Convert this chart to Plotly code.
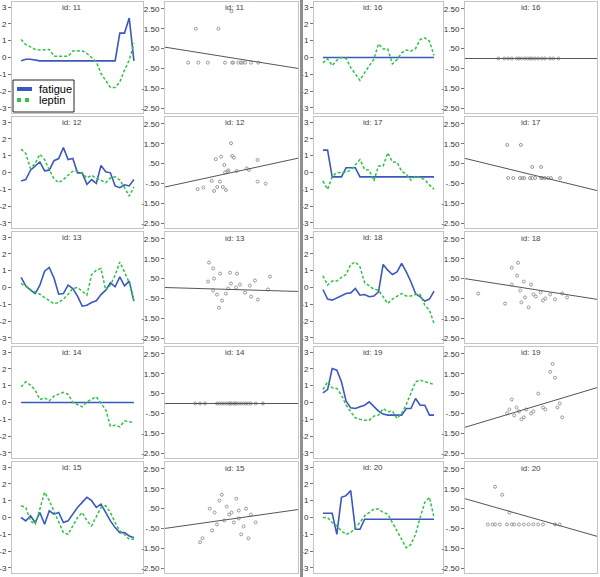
import plotly.graph_objects as go

# ---------------- data ----------------
ids = [11, 12, 13, 14, 15, 16, 17, 18, 19, 20]
time_index = list(range(1, 26))
legend_labels = ["fatigue", "leptin"]

fatigue_11 = [-0.2, -0.1, -0.1, -0.15, -0.2, -0.2, -0.2, -0.2, -0.2, -0.2, -0.2, -0.2, -0.2, -0.2, -0.2, -0.2, -0.2, -0.2, -0.2, -0.2, -0.2, 1.45, 1.45, 2.35, -0.2]
leptin_11 = [1.07, 0.77, 0.63, 0.48, 0.44, 0.48, 0.48, 0.08, 0.08, 0.08, 0.08, 0.38, 0.38, 0.4, 0.24, 0.0, -0.25, -0.95, -1.35, -1.78, -1.78, -1.45, -0.75, -0.15, 0.83]
fatigue_12 = [-0.5, -0.42, 0.14, 0.38, 0.63, 0.1, 0.14, 0.7, 0.83, 1.48, 0.77, 0.83, -0.02, -0.02, -0.7, -0.42, -0.65, 0.42, 0.04, -0.02, -0.8, -0.9, -0.73, -0.8, -0.42]
leptin_12 = [1.39, 1.13, 0.24, 0.53, 1.09, 0.77, 0.14, -0.36, -0.61, -0.42, -0.16, 0.08, 0.08, -0.06, -0.32, -0.16, -0.36, -0.46, -0.61, -0.32, -0.25, -0.45, -0.9, -1.4, -0.85]
fatigue_13 = [0.6, 0.1, -0.16, -0.36, 0.14, 0.97, 1.19, 0.57, -0.4, -0.36, 0.14, -0.06, -0.51, -1.11, -1.05, -0.89, -0.79, -0.42, -0.16, 0.28, 0.04, 0.63, 0.1, 0.38, -0.81]
leptin_13 = [0.24, 0.04, -0.12, -0.26, -0.4, -0.6, -0.8, -0.97, -0.89, -0.69, -0.4, -0.06, 0.0, -0.2, -0.45, 0.77, 1.03, 1.13, -0.16, 0.14, 0.73, 1.52, 0.9, 0.3, -0.81]
fatigue_14 = [0.0] * 25
leptin_14 = [0.93, 1.23, 1.03, 0.73, 0.18, 0.28, 0.1, 0.38, 0.5, 0.6, 0.48, 0.0, -0.12, -0.26, 0.04, 0.2, 0.34, -0.06, -0.42, -1.4, -1.35, -1.45, -1.09, -1.15, -1.19]
fatigue_15 = [0.0, -0.2, 0.1, -0.3, 0.3, -0.4, 0.4, 0.2, 0.3, -0.3, -0.2, 0.2, 0.6, 0.9, 1.2, 1.0, 0.6, 0.8, 0.3, -0.2, -0.6, -0.9, -0.9, -1.1, -1.2]
leptin_15 = [0.7, 0.6, -0.2, -0.4, 0.5, 1.5, 1.0, 0.4, -0.3, -0.9, -1.0, -0.5, 0.0, 0.3, -0.2, -0.5, 0.1, 0.6, 0.7, 0.3, -0.3, -0.8, -1.0, -1.3, -1.3]
fatigue_16 = [0.0] * 25
leptin_16 = [-0.32, -0.08, -0.48, -0.16, 0.0, -0.06, -0.6, -1.0, -1.36, -0.9, -0.5, -0.1, 0.81, 0.5, 0.5, -0.38, -0.12, 0.28, 0.44, 0.38, 0.53, 1.07, 1.17, 0.97, 0.12]
fatigue_17 = [1.33, 1.33, -0.26, -0.26, -0.26, 0.28, 0.28, 0.28, -0.26, -0.26, -0.26, -0.26, -0.26, -0.26, -0.26, -0.26, -0.26, -0.26, -0.26, -0.26, -0.26, -0.26, -0.26, -0.26, -0.26]
leptin_17 = [-0.5, -1.0, -0.26, 0.0, -0.02, 0.02, 0.14, 0.44, 0.77, 0.18, 0.14, -0.5, 0.38, 0.38, 1.17, 0.63, 0.6, 0.08, -0.1, -0.46, -0.2, -0.32, -0.42, -0.75, -0.99]
fatigue_18 = [-0.12, -0.69, -0.75, -0.61, -0.46, -0.36, -0.32, -0.06, -0.46, -0.42, -0.55, -0.51, -0.26, 1.37, 1.03, 0.77, 0.93, 1.43, 0.93, 0.34, -0.36, -0.55, -0.81, -0.69, -0.22]
leptin_18 = [0.7, 0.14, 0.38, 0.38, 0.6, 0.77, 1.37, 1.52, 1.23, 0.28, 0.1, -0.1, -0.16, -0.55, -0.95, -0.69, -0.5, -0.36, -0.5, -0.5, -0.42, -0.42, -1.05, -1.35, -2.14]
fatigue_19 = [0.57, 0.77, 2.02, 1.92, 1.23, 0.08, -0.32, -0.36, -0.26, -0.16, 0.04, -0.26, -0.51, -0.69, -0.75, -0.75, -0.75, -0.75, -0.36, -0.36, 0.24, -0.16, -0.16, -0.75, -0.75]
leptin_19 = [0.77, 1.23, 0.87, 0.83, 0.44, -0.16, -0.55, -0.91, -1.0, -1.05, -1.05, -0.81, -0.75, -0.36, -0.55, -0.5, -0.95, -0.65, -0.12, 0.53, 1.23, 1.33, 1.23, 1.13, 1.07]
fatigue_20 = [0.25, 0.25, 0.25, -1.0, 1.2, 1.3, 1.6, -0.7, -0.7, -0.1, -0.1, -0.1, -0.1, -0.1, -0.1, -0.1, -0.1, -0.1, -0.1, -0.1, -0.1, -0.1, -0.1, -0.1, -0.1]
leptin_20 = [0.0, 0.0, -0.3, -0.5, -0.8, -1.0, -0.9, -0.6, -0.3, 0.1, 0.3, 0.5, 0.5, 0.3, 0.2, -0.3, -0.8, -1.3, -1.8, -1.6, -1.0, 0.0, 0.9, 1.2, 0.0]

scatter_x_11 = [-1.48, -0.54, 0.0, -1.79, -1.37, -0.98, -0.27, 0.03, 0.07, 0.28, 0.39, 0.45, 0.56, 0.81, 1.11]
scatter_y_11 = [1.5, 1.5, 2.38, -0.21, -0.21, -0.21, -0.21, -0.21, -0.21, -0.21, -0.21, -0.21, -0.21, -0.21, -0.21]
scatter_x_12 = [-1.40, -1.16, -0.82, -0.72, -0.65, -0.59, -0.48, -0.43, -0.36, -0.30, -0.27, -0.23, -0.17, -0.13, -0.02, 0.03, 0.10, 0.21, 0.63, 0.72, 1.08, 1.08, 1.41]
scatter_y_12 = [-0.79, -0.71, -0.37, -0.88, 0.72, -0.68, -0.41, 0.85, -0.68, 0.43, 0.05, -0.83, 0.10, 0.16, 1.53, 0.89, 0.80, 0.13, 0.26, 0.18, 0.68, -0.41, -0.51]
scatter_x_13 = [-0.93, -0.76, -0.47, -0.72, -0.97, -0.06, 0.23, -0.02, 0.19, -0.23, -0.60, -0.39, -0.52, 0.56, 0.76, 0.81, 0.97, 1.09, 1.51, 1.59, -0.76, -0.14, 0.35]
scatter_y_13 = [1.31, 1.01, 0.75, 0.5, 0.35, 0.8, 0.75, 0.25, 0.05, -0.26, -0.31, -0.61, -0.97, -0.21, 0.15, -0.41, 0.4, -0.56, -0.05, 0.6, -0.1, 0.0, 0.2]
scatter_x_14 = [-1.5, -1.3, -1.1, -0.6, -0.5, -0.4, -0.3, -0.2, -0.1, -0.05, 0.0, 0.1, 0.15, 0.2, 0.3, 0.4, 0.5, 0.6, 0.7, 0.8, 1.0, 1.3]
scatter_y_14 = [0.0] * 22
scatter_x_15 = [-1.3, -1.2, -0.9, -0.7, -0.6, -0.5, -0.4, -0.3, -0.2, -0.1, 0.0, 0.1, 0.2, 0.3, 0.4, 0.5, 0.6, 0.8, 1.0, -0.8, 0.3, 0.7]
scatter_y_15 = [-1.2, -1.0, 0.5, 0.3, -0.3, 0.9, 1.2, -0.1, 0.6, 0.2, 0.3, -0.2, 1.0, 0.4, -0.8, -0.4, 0.5, 0.2, -0.2, -0.6, 0.0, -1.0]
scatter_x_16 = [-1.36, -1.11, -0.95, -0.80, -0.60, -0.50, -0.39, -0.25, -0.14, -0.04, 0.05, 0.17, 0.30, 0.45, 0.58, 0.79, 0.93, 1.14]
scatter_y_16 = [0.0] * 18
scatter_x_17 = [-0.99, -0.42, 0.05, 0.42, -0.95, -0.74, -0.46, -0.36, -0.28, -0.04, 0.05, 0.17, 0.42, 0.47, 0.58, 0.72, 0.83, 1.21]
scatter_y_17 = [1.44, 1.44, 0.33, 0.33, -0.23, -0.23, -0.23, -0.23, -0.23, -0.23, -0.23, -0.23, -0.23, -0.23, -0.23, -0.23, -0.23, -0.23]
scatter_x_18 = [-2.2, -1.08, -0.8, -0.54, -0.58, -0.45, -0.25, -0.1, 0.0, 0.2, 0.4, 0.6, 0.8, 1.0, 1.3, 1.5, -0.8, -0.4, 0.5, -0.3, 0.1]
scatter_y_18 = [-0.26, -0.76, 1.05, 1.3, 0.65, -0.1, -0.45, -0.95, 0.2, -0.4, -0.2, -0.5, -0.3, -0.55, -0.25, -0.45, 0.2, -0.7, -0.6, 0.35, -0.3]
scatter_x_19 = [-1.0, -0.9, -0.8, -0.7, -0.6, -0.5, -0.3, -0.2, 0.0, 0.3, 0.5, 0.8, 0.9, 1.0, 1.1, 1.2, 1.3, -0.4, 0.1, 0.6]
scatter_y_19 = [-0.5, -0.3, 0.2, -0.6, -0.2, -0.4, -0.7, -0.3, -0.5, 0.5, -0.2, 1.6, 2.0, 1.3, -0.2, 0.0, -0.7, -0.8, -0.4, -0.3]
scatter_x_20 = [-1.8, -1.6, -1.5, -1.3, -1.0, -0.8, -0.7, -0.5, -0.3, -0.1, 0.1, 0.3, 0.5, 1.0, 1.2, -1.5, -1.2, -0.9]
scatter_y_20 = [-0.3, -0.3, -0.3, -0.3, -0.3, -0.3, -0.3, -0.3, -0.3, -0.3, -0.3, -0.3, -0.3, -0.3, -0.3, 1.6, 1.2, 0.3]

fit_slope = [-0.195, 0.264, -0.036, 0.0, 0.173, 0.0, -0.295, -0.19, 0.364, -0.345]
fit_intercept = [0.035, 0.045, -0.05, 0.0, -0.025, 0.0, -0.05, -0.025, -0.2, 0.05]

ts_ticks = [3, 2, 1, 0, -1, -2, -3]
ts_ticktext = ["3", "2", "1", "0", "-1", "-2", "-3"]
sc_ticks = [2.5, 1.5, 0.5, -0.5, -1.5, -2.5]
sc_ticktext = ["2.50", "1.50", ".50", "-.50", "-1.50", "-2.50"]

series = {
    11: (fatigue_11, leptin_11, scatter_x_11, scatter_y_11),
    12: (fatigue_12, leptin_12, scatter_x_12, scatter_y_12),
    13: (fatigue_13, leptin_13, scatter_x_13, scatter_y_13),
    14: (fatigue_14, leptin_14, scatter_x_14, scatter_y_14),
    15: (fatigue_15, leptin_15, scatter_x_15, scatter_y_15),
    16: (fatigue_16, leptin_16, scatter_x_16, scatter_y_16),
    17: (fatigue_17, leptin_17, scatter_x_17, scatter_y_17),
    18: (fatigue_18, leptin_18, scatter_x_18, scatter_y_18),
    19: (fatigue_19, leptin_19, scatter_x_19, scatter_y_19),
    20: (fatigue_20, leptin_20, scatter_x_20, scatter_y_20),
}

# ---------------- layout geometry ----------------
W, H = 600, 577
BLUE = "#3b58bf"
GREEN = "#2fc447"
FRAME = "#c4c4c4"
FONT = "Arial, Liberation Sans, sans-serif"
col_px = [(12, 143), (165, 298), (314, 443), (465, 597)]
title_px = [72, 235, 373, 531]
sc_xrange = [-2.75, 2.75]

fig = go.Figure()
layout_axes = {}
annotations = []
shapes = []
axis_n = 0


def px_x(v):
    return v / W


def px_y(v):
    return 1 - v / H


def add_axes(col, row, kind):
    global axis_n
    axis_n += 1
    n = axis_n
    x0, x1 = col_px[col]
    top = 2 + 115 * row
    bot = 113 + 115 * row
    sfx = "" if n == 1 else str(n)
    xa = dict(domain=[px_x(x0), px_x(x1)], anchor="y" + sfx, showline=True, mirror=True,
              linecolor=FRAME, linewidth=1, showgrid=False, zeroline=False,
              showticklabels=False, ticks="", fixedrange=True)
    ya = dict(domain=[px_y(bot), px_y(top)], anchor="x" + sfx, showline=True, mirror=True,
              linecolor=FRAME, linewidth=1, showgrid=False, zeroline=False,
              ticks="outside", ticklen=3, tickcolor="#777", tickwidth=1,
              tickfont=dict(family=FONT, size=8, color="#333"),
              fixedrange=True)
    if kind == "ts":
        xa["range"] = [1 - 1.93, 25 + 1.93]
        ya.update(range=[-3.3, 3.3], tickvals=ts_ticks, ticktext=ts_ticktext)
    else:
        xa["range"] = sc_xrange
        ya.update(range=[-2.75, 2.85], tickvals=sc_ticks, ticktext=sc_ticktext)
    layout_axes["xaxis" + sfx] = xa
    layout_axes["yaxis" + sfx] = ya
    return "x" + sfx, "y" + sfx, top


for k, pid in enumerate(ids):
    half = 0 if pid <= 15 else 1
    row = k % 5
    fat, lep, sx, sy = series[pid]
    # time-series panel
    xr, yr, top = add_axes(2 * half, row, "ts")
    fig.add_trace(go.Scatter(x=time_index, y=fat, mode="lines", xaxis=xr, yaxis=yr,
                             line=dict(color=BLUE, width=1.6), showlegend=False, hoverinfo="skip"))
    fig.add_trace(go.Scatter(x=time_index, y=lep, mode="lines", xaxis=xr, yaxis=yr,
                             line=dict(color=GREEN, width=1.5, dash="3px,2px"), showlegend=False,
                             hoverinfo="skip"))
    annotations.append(dict(text="id: %d" % pid, x=px_x(title_px[2 * half]), y=px_y(top + 5),
                            xref="paper", yref="paper", showarrow=False, xanchor="center",
                            yanchor="middle", font=dict(family=FONT, size=8, color="#444")))
    # scatter panel
    xr, yr, top = add_axes(2 * half + 1, row, "sc")
    fig.add_trace(go.Scatter(x=sx, y=sy, mode="markers", xaxis=xr, yaxis=yr,
                             marker=dict(symbol="circle-open", size=3, color="#999",
                                         line=dict(width=1, color="#999")),
                             showlegend=False, hoverinfo="skip"))
    b, a = fit_slope[k], fit_intercept[k]
    fig.add_trace(go.Scatter(x=sc_xrange, y=[a + b * v for v in sc_xrange], mode="lines",
                             xaxis=xr, yaxis=yr, line=dict(color="#555", width=1),
                             showlegend=False, hoverinfo="skip"))
    annotations.append(dict(text="id: %d" % pid, x=px_x(title_px[2 * half + 1]), y=px_y(top + 6),
                            xref="paper", yref="paper", showarrow=False, xanchor="center",
                            yanchor="middle", font=dict(family=FONT, size=8, color="#444")))

# hand-drawn legend box inside the id 11 panel
shapes.append(dict(type="rect", xref="paper", yref="paper", x0=px_x(13), x1=px_x(74),
                   y0=px_y(112), y1=px_y(80), fillcolor="white", line=dict(color="#222", width=1)))
shapes.append(dict(type="line", xref="paper", yref="paper", x0=px_x(17), x1=px_x(32),
                   y0=px_y(89), y1=px_y(89), line=dict(color=BLUE, width=4)))
shapes.append(dict(type="line", xref="paper", yref="paper", x0=px_x(17), x1=px_x(33),
                   y0=px_y(100), y1=px_y(100), line=dict(color=GREEN, width=4, dash="dot")))
for label, ly in zip(legend_labels, [89, 100]):
    annotations.append(dict(text=label, x=px_x(37), y=px_y(ly), xref="paper", yref="paper",
                            showarrow=False, xanchor="left", yanchor="middle",
                            font=dict(family=FONT, size=11, color="#000")))

# thick separator between the two halves
shapes.append(dict(type="rect", xref="paper", yref="paper", x0=px_x(300), x1=px_x(303), y0=0, y1=1,
                   fillcolor="#8f8f8f", line=dict(width=0)))

fig.update_layout(
    width=W, height=H, margin=dict(l=0, r=0, t=0, b=0),
    paper_bgcolor="white", plot_bgcolor="white",
    showlegend=False,
    annotations=annotations, shapes=shapes,
    **layout_axes,
)

fig.write_html("out.html", config={"displayModeBar": False},
               post_script="document.body.style.margin='0';document.body.style.overflow='hidden';")
